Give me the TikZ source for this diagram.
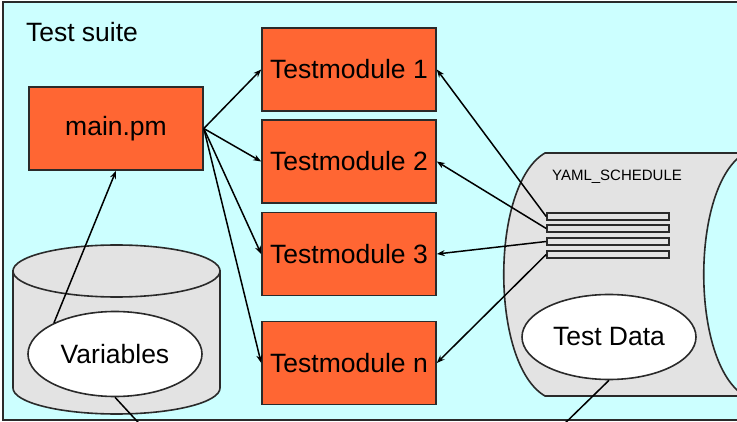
\documentclass[tikz,border=0pt]{standalone}
\usepackage{fontspec}
\setmainfont{Liberation Sans}
\usetikzlibrary{arrows.meta,shapes.geometric}
\definecolor{suitebg}{HTML}{CCFFFF}
\definecolor{modfill}{HTML}{FF6633}
\definecolor{storefill}{HTML}{E3E3E3}
\definecolor{edge}{HTML}{2A2A2A}
\tikzset{
  big/.style={font=\fontsize{26.5}{30}\selectfont},
  modbox/.style={draw=edge, line width=1.6pt, fill=modfill, minimum width=174pt, minimum height=83pt, inner sep=0pt, big},
  store/.style={draw=edge, line width=1.6pt, fill=storefill},
  databubble/.style={ellipse, draw=edge, line width=1.6pt, fill=white, minimum width=174pt, minimum height=85pt, inner sep=0pt, big},
  rowbox/.style={draw=edge, line width=1.6pt, fill=storefill, minimum width=122pt, minimum height=7pt, inner sep=0pt},
  link/.style={draw=black, line width=1.5pt},
  arrowlink/.style={link, -{Stealth[length=8pt,width=6pt]}},
}
\begin{document}
\begin{tikzpicture}[x=1pt,y=1pt]
  \useasboundingbox (0,0) rectangle (737,-422);
  \clip (0,0) rectangle (737,-422);
  % suite frame
  \draw[draw=edge, line width=1.6pt, fill=suitebg] (3,-2) rectangle (760,-420);
  \node[big, anchor=center] (title) at (82,-32) {Test suite};

  % variables store (cylinder)
  \path[store] (13,-271) -- (13,-388) arc[start angle=180, end angle=360, x radius=103.5, y radius=26] -- (220,-271) -- cycle;
  \draw[store] (116.5,-271) ellipse[x radius=103.5, y radius=26];

  % schedule store (stored data shape)
  \draw[store] (545,-153) -- (745,-153)
     .. controls (690,-185) and (690,-364) .. (745,-396)
     -- (545,-396)
     .. controls (490,-364) and (490,-185) .. (545,-153) -- cycle;
  \node[font=\fontsize{15}{18}\selectfont] (sched) at (617,-177) {YAML\_SCHEDULE};
  \node[rowbox] (row1) at (608,-216.5) {};
  \node[rowbox] (row2) at (608,-228.5) {};
  \node[rowbox] (row3) at (608,-241.5) {};
  \node[rowbox] (row4) at (608,-254.5) {};

  % data bubbles
  \node[databubble] (vars) at (115,-354) {Variables};
  \node[databubble] (tdata) at (609,-337) {Test Data};

  % modules
  \node[modbox] (main) at (116,-128.5) {main.pm};
  \node[modbox] (tm1) at (349,-69.5) {Testmodule 1};
  \node[modbox] (tm2) at (349,-161.5) {Testmodule 2};
  \node[modbox] (tm3) at (349,-254) {Testmodule 3};
  \node[modbox] (tmn) at (349,-363) {Testmodule n};

  % connectors
  \draw[arrowlink] (main.east) -- (tm1.west);
  \draw[arrowlink] (main.east) -- (tm2.west);
  \draw[arrowlink] (main.east) -- (tm3.west);
  \draw[arrowlink] (main.east) -- (tmn.west);

  \draw[arrowlink] (row1.west) -- (tm1.east);
  \draw[arrowlink] (row2.west) -- (tm2.east);
  \draw[arrowlink] (row3.west) -- (tm3.east);
  \draw[arrowlink] (row4.west) -- (tmn.east);

  \draw[arrowlink] (vars.153) -- (main.south);

  \coordinate (varsout) at (147,-432);
  \coordinate (tdataout) at (556,-432);
  \draw[link] (vars.south) -- (varsout);
  \draw[link] (tdata.south) -- (tdataout);
\end{tikzpicture}
\end{document}
